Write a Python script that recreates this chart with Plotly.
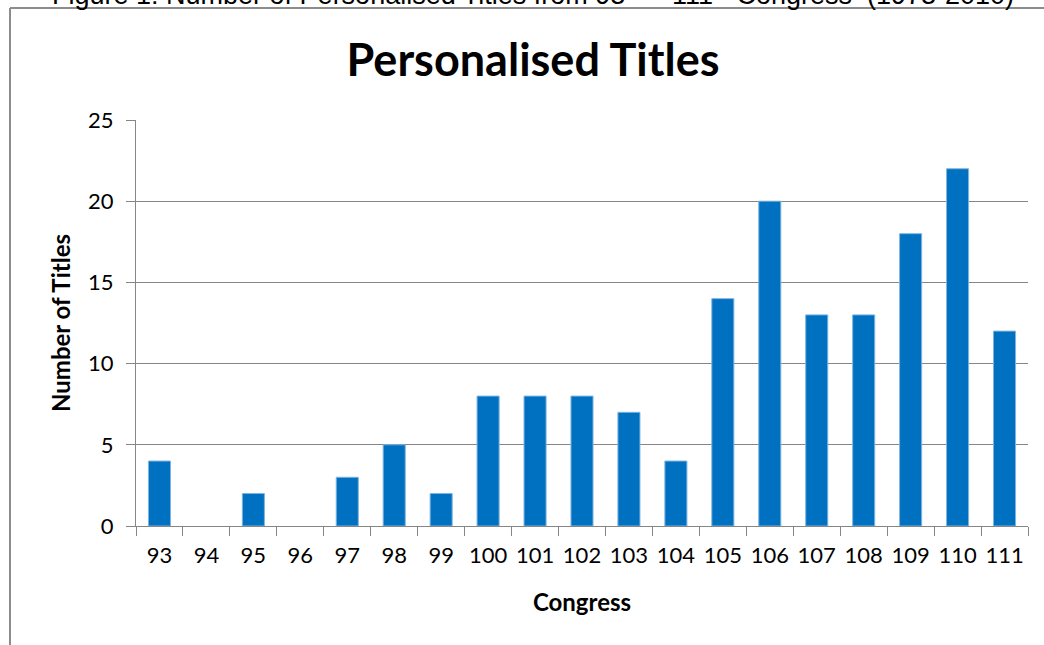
import plotly.graph_objects as go

congress = ["93", "94", "95", "96", "97", "98", "99", "100", "101", "102",
            "103", "104", "105", "106", "107", "108", "109", "110", "111"]
titles = [4, 0, 2, 0, 3, 5, 2, 8, 8, 8, 7, 4, 14, 20, 13, 13, 18, 22, 12]
y_ticks = [0, 5, 10, 15, 20, 25]

W, H = 1044, 645
L, R, T, B = 136, 16, 120, 119
pw, ph = W - L - R, H - T - B

def px(x):
    return (x - L) / pw

def py(y):
    return 1 - (y - T) / ph

FONT = "Lato"
GRID = "#868686"

fig = go.Figure(go.Bar(
    x=congress, y=titles,
    marker=dict(color="#0070C0",
                line=dict(color="#7FB4E0", width=[1 if v > 0 else 0 for v in titles])),
    width=0.47,
))

fig.update_layout(
    width=W, height=H,
    margin=dict(l=L, r=R, t=T, b=B),
    paper_bgcolor="white", plot_bgcolor="white",
    showlegend=False,
    font=dict(family=FONT, color="black"),
    title=dict(text="<b>Personalised Titles</b>", xref="container", x=533 / W, xanchor="center",
               yref="container", y=1 - 60 / H, yanchor="middle",
               font=dict(size=45, family=FONT)),
)

fig.update_xaxes(
    type="category", tickson="boundaries", ticks="outside", ticklen=9,
    tickcolor=GRID, showline=True, linecolor=GRID, linewidth=1,
    tickfont=dict(size=22), tickangle=0, showgrid=False, ticklabelstandoff=10,
    title=dict(text="<b>Congress</b>", font=dict(size=24), standoff=26),
    automargin=False,
)
fig.update_yaxes(
    range=[0, 25], tickvals=y_ticks, ticks="outside", ticklen=9,
    tickcolor=GRID, showline=True, linecolor=GRID, linewidth=1,
    showgrid=True, gridcolor=GRID, gridwidth=1, zeroline=False,
    tickfont=dict(size=22), ticklabelstandoff=8,
    title=dict(text="<b>Number of Titles</b>", font=dict(size=24), standoff=10),
    automargin=False,
)

# Figure frame (partially visible)
fig.add_shape(type="line", xref="paper", yref="paper",
              x0=px(10), x1=px(10), y0=py(8), y1=py(H + 5),
              line=dict(color="#8C8C8C", width=2))
fig.add_shape(type="line", xref="paper", yref="paper",
              x0=px(10), x1=px(W + 5), y0=py(8), y1=py(8),
              line=dict(color="#8C8C8C", width=2))

# Caption cut off at the top of the page
fig.add_annotation(
    text="Figure 1: Number of Personalised Titles from 93<sup>rd</sup> – 111<sup>th</sup> Congress  (1973-2010)",
    xref="paper", yref="paper", x=px(533), y=py(-7), xanchor="center", yanchor="middle",
    showarrow=False, font=dict(family="Liberation Sans", size=27, color="black"),
)

fig.write_html("out.html", config={"displayModeBar": False},
               post_script="document.body.style.margin='0';document.body.style.overflow='hidden';")
